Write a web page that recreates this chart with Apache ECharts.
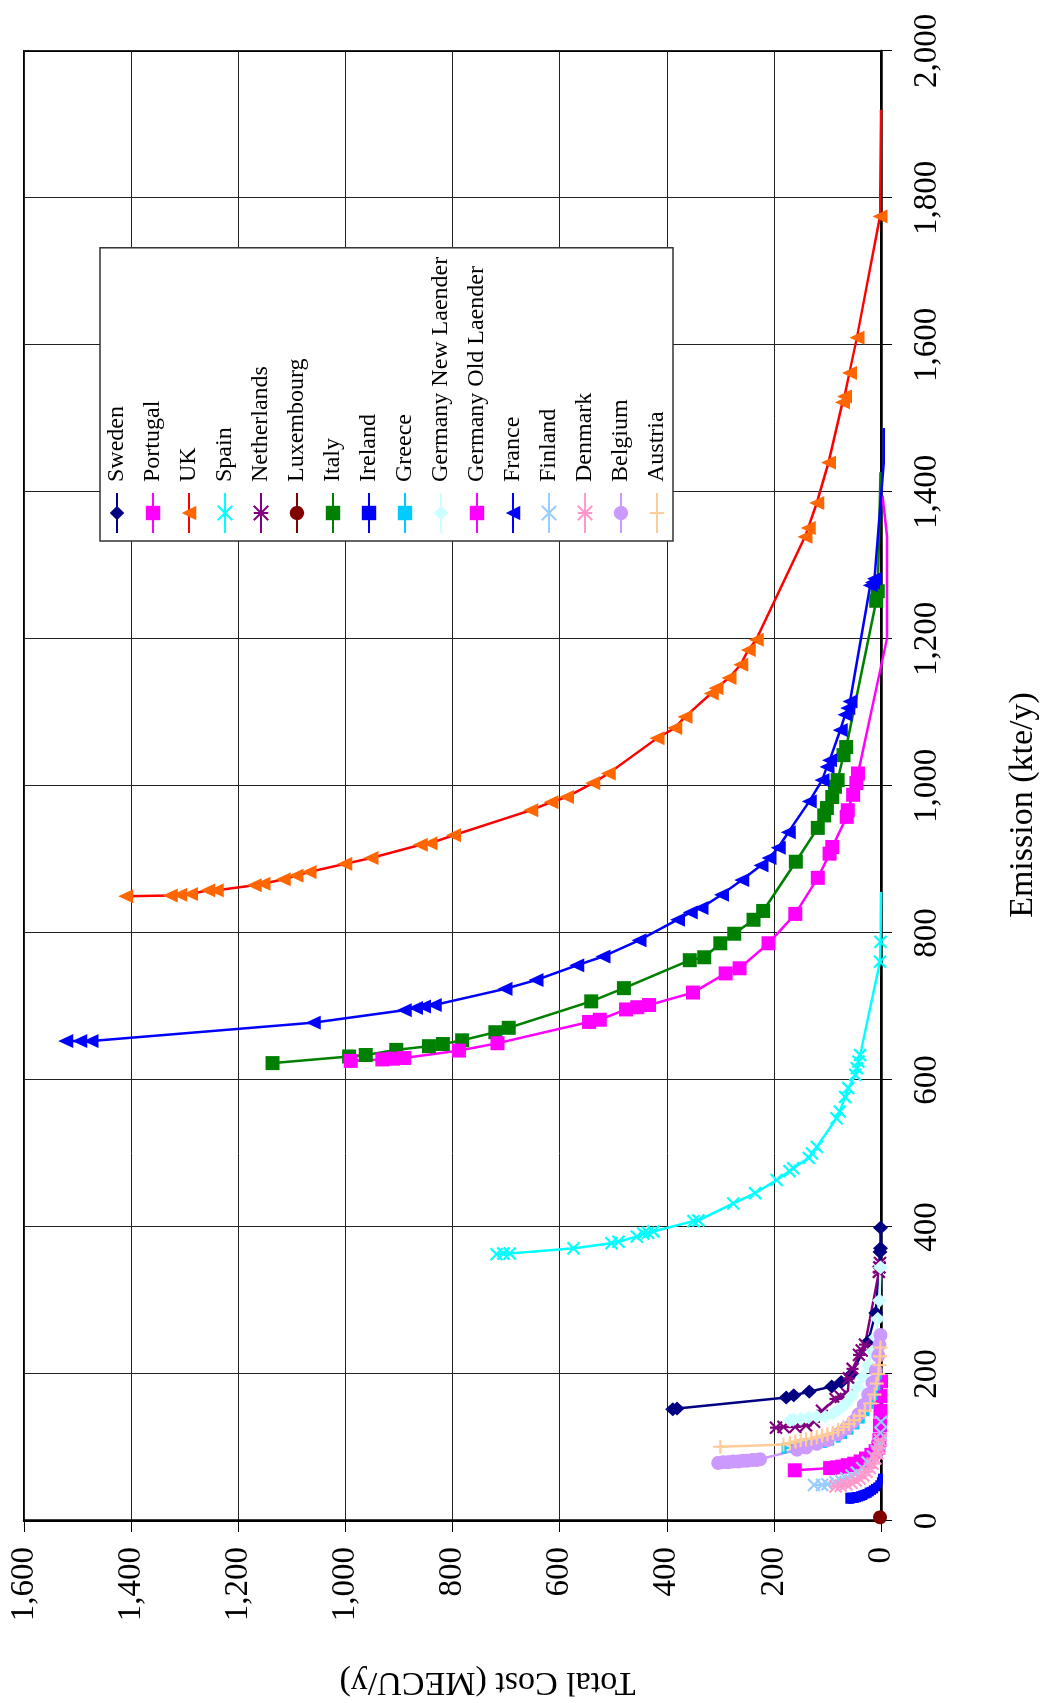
<!DOCTYPE html>
<html>
<head>
<meta charset="utf-8">
<script src="https://cdn.jsdelivr.net/npm/echarts@6/dist/echarts.min.js"></script>
<style>
html, body { margin: 0; padding: 0; background: #fff; }
#page { position: relative; width: 1046px; height: 1703px; overflow: hidden; }
/* chart is laid out landscape, then turned a quarter to the left */
#chart { position: absolute; left: 0; top: 0; width: 1703px; height: 1046px;
  transform-origin: 0 0; transform: translate(0, 1703px) rotate(-90deg); }
</style>
</head>
<body>
<div id="page"><div id="chart"></div></div>
<script>
// [emission kte/y, total cost MECU/y]; *Tail = points drawn without a marker
var sweden = [[399,1],[371,1],[366,2],[283,10],[244,24],[199,56],[189,74],[183,92],[176,134],[171,163],[168,177],[153,381],[152,389]];
var portugal = [[190,0],[170,1],[150,1],[130,2],[110,3],[100,5],[95,10],[90,18],[85,28],[81,38],[78,50],[76,62],[74,72],[73,82],[72,95],[69,161]];
var ukTail = [[1920,0],[1907,0]];
var uk = [[1775,2],[1610,45],[1562,59],[1530,68],[1522,72],[1440,98],[1385,120],[1351,136],[1339,142],[1199,233],[1185,248],[1165,262],[1147,284],[1133,308],[1126,317],[1094,366],[1079,385],[1065,418],[1017,509],[1004,538],[985,587],[978,616],[967,654],[933,798],[922,842],[920,860],[902,952],[894,1001],[883,1068],[878,1092],[873,1116],[867,1154],[865,1170],[858,1241],[858,1257],[853,1289],[852,1309],[851,1327],[850,1410]];
var spainTail = [[856,0]];
var spain = [[788,1],[761,2],[634,39],[625,42],[616,45],[607,48],[589,61],[577,67],[557,77],[548,83],[509,120],[500,129],[494,135],[480,164],[476,171],[464,195],[446,235],[432,276],[409,341],[408,350],[394,425],[392,435],[391,444],[387,456],[380,490],[378,503],[371,574],[364,693],[364,705],[363,718]];
var netherlands = [[351,2],[345,3],[339,4],[240,30],[232,36],[226,41],[207,53],[194,60],[172,62],[169,75],[166,85],[150,110],[135,125],[130,140],[128,160],[128,182],[127,196]];
var luxembourg = [[5,2]];
var italyTail = [[1427,1]];
var italy = [[1265,6],[1252,9],[1053,65],[1042,70],[1008,81],[999,86],[985,91],[970,101],[960,106],[943,118],[897,159],[830,220],[818,238],[799,274],[786,300],[767,330],[763,357],[725,480],[707,541],[671,695],[665,720],[654,782],[649,818],[646,844],[641,905],[634,962],[632,993],[623,1136]];
var ireland = [[57,1],[52,3],[48,6],[45,10],[43,14],[41,18],[39,22],[38,26],[36,30],[35,34],[34,38],[33,42],[32,46],[32,50],[31,54],[31,58],[31,62]];
var greece = [[200,3],[185,6],[172,11],[160,18],[150,26],[140,35],[132,45],[125,56],[119,68],[114,80],[110,92],[107,105],[105,120],[103,135],[101,150],[100,165],[99,181]];
var germanyNew = [[345,1],[300,3],[275,6],[250,10],[230,17],[212,25],[196,34],[182,44],[170,55],[160,66],[152,78],[146,90],[142,104],[142,120],[141,135],[139,150],[138,164],[137,170]];
var germanyOldTail = [[1395,-3],[1340,-11],[1200,-11]];
var germanyOld = [[1017,43],[1004,46],[988,52],[967,62],[958,64],[917,91],[908,96],[875,118],[826,160],[786,210],[752,264],[745,290],[719,351],[702,433],[699,455],[696,476],[682,525],[679,545],[650,716],[640,788],[630,890],[629,911],[628,931],[626,990]];
var franceTail = [[1487,-5],[1440,-5]];
var france = [[1282,12],[1277,16],[1273,20],[1115,58],[1106,62],[1097,67],[1076,76],[1035,96],[1026,101],[1008,110],[979,134],[937,173],[916,192],[902,209],[892,224],[872,260],[852,298],[834,336],[828,356],[818,380],[790,452],[768,519],[756,568],[736,644],[724,702],[702,834],[700,854],[698,869],[695,890],[678,1060],[653,1475],[653,1496],[653,1522]];
var finland = [[135,0],[120,1],[105,3],[95,8],[88,15],[80,25],[72,35],[66,45],[62,55],[58,65],[55,75],[53,85],[50,100],[49,110],[49,125]];
var denmark = [[110,2],[100,4],[92,7],[85,11],[78,16],[72,21],[67,27],[62,33],[58,40],[55,47],[52,55],[50,65],[48,75],[47,85]];
var belgium = [[253,1],[240,3],[225,5],[205,10],[188,16],[172,24],[158,32],[145,42],[135,52],[126,65],[118,80],[110,100],[105,120],[100,140],[97,157],[84,226],[83,232],[83,240],[82,250],[82,258],[81,266],[81,276],[80,285],[80,295],[79,304]];
var austria = [[236,1],[224,2],[212,3],[200,5],[187,8],[172,12],[160,20],[150,30],[143,40],[137,50],[132,60],[128,70],[124,80],[120,90],[118,100],[116,110],[114,120],[112,130],[111,140],[110,150],[108,160],[106,170],[104,182],[101,300]];

var FONT = 'Liberation Serif';
var X_MARK = 'path://M0,0L10,10M0,10L10,0';
var STAR_MARK = 'path://M0,0L10,10M0,10L10,0M5,0L5,10';
var PLUS_MARK = 'path://M5,0L5,10M0,5L10,5';

function fmt(v) {
  return String(v).replace(/\B(?=(\d{3})+(?!\d))/g, ',');
}

function mk(name, pts, tail, line, mark, symbol, size, stroked) {
  var data = (tail || []).map(function (p) {
    return { value: p, symbol: 'none' };
  }).concat(pts);
  return {
    name: name,
    type: 'line',
    data: data,
    clip: false,
    showAllSymbol: true,
    symbol: symbol,
    symbolSize: size,
    lineStyle: { color: line, width: 2.5 },
    itemStyle: stroked
      ? { color: mark, borderColor: mark, borderWidth: 2.2 }
      : { color: mark, borderWidth: 0 },
    emphasis: { disabled: true },
    animation: false
  };
}

var chart = echarts.init(document.getElementById('chart'));
chart.setOption({
  animation: false,
  grid: {
    left: 182, right: 51, top: 24, bottom: 165,
    show: true, borderColor: '#000', borderWidth: 2,
    outerBoundsMode: 'none'
  },
  legend: {
    orient: 'vertical',
    left: 1162, top: 100,
    padding: [5, 9, 4, 7],
    itemGap: 12,
    itemWidth: 40,
    itemHeight: 18,
    backgroundColor: '#fff',
    borderColor: '#333',
    borderWidth: 1.5,
    borderRadius: 0,
    textStyle: { fontFamily: FONT, fontSize: 24, color: '#000', lineHeight: 24, padding: [0, 0, 0, 6] }
  },
  xAxis: {
    type: 'value', min: 0, max: 2000, interval: 200,
    name: 'Emission (kte/y)', nameLocation: 'middle', nameGap: 125,
    nameTextStyle: { fontFamily: FONT, fontSize: 34, color: '#000', padding: [0, 38, 0, 0] },
    axisLine: { show: true, onZero: false, lineStyle: { color: '#000', width: 2.5 } },
    axisTick: { show: true, inside: false, length: 11, lineStyle: { color: '#000', width: 1 } },
    axisLabel: { margin: 30, fontFamily: FONT, fontSize: 33, color: '#000', formatter: fmt },
    splitLine: { show: true, lineStyle: { color: '#222', width: 1 } }
  },
  yAxis: {
    type: 'value', min: 0, max: 1600, interval: 200,
    name: 'Total Cost (MECU/y)', nameLocation: 'middle', nameGap: 144,
    nameTextStyle: { fontFamily: FONT, fontSize: 34, color: '#000', padding: [0, 70, 0, 0] },
    axisLine: { show: true, onZero: false, lineStyle: { color: '#000', width: 2.5 } },
    axisTick: { show: true, inside: false, length: 11, lineStyle: { color: '#000', width: 1 } },
    axisLabel: { margin: 26, fontFamily: FONT, fontSize: 33, color: '#000', formatter: fmt },
    splitLine: { show: true, lineStyle: { color: '#222', width: 1 } }
  },
  series: [
    mk('Sweden', sweden, null, '#000080', '#000080', 'diamond', [14, 15]),
    mk('Portugal', portugal, null, '#FF00FF', '#FF00FF', 'rect', 14),
    mk('UK', uk, ukTail, '#FF0000', '#FF6600', 'triangle', [14, 15]),
    mk('Spain', spain, spainTail, '#00FFFF', '#00FFFF', X_MARK, 12, true),
    mk('Netherlands', netherlands, null, '#800080', '#800080', STAR_MARK, 12, true),
    mk('Luxembourg', luxembourg, null, '#800000', '#800000', 'circle', 14),
    mk('Italy', italy, italyTail, '#008000', '#008000', 'rect', 14),
    mk('Ireland', ireland, null, '#0000FF', '#0000FF', 'rect', [11, 5]),
    mk('Greece', greece, null, '#00CCFF', '#00CCFF', 'rect', [11, 5]),
    mk('Germany New Laender', germanyNew, null, '#CCFFFF', '#CCFFFF', 'diamond', [14, 15]),
    mk('Germany Old Laender', germanyOld, germanyOldTail, '#FF00FF', '#FF00FF', 'rect', 14),
    mk('France', france, franceTail, '#0000FF', '#0000FF', 'triangle', [14, 15]),
    mk('Finland', finland, null, '#99CCFF', '#99CCFF', X_MARK, 12, true),
    mk('Denmark', denmark, null, '#FF99CC', '#FF99CC', STAR_MARK, 12, true),
    mk('Belgium', belgium, null, '#CC99FF', '#CC99FF', 'circle', 14),
    mk('Austria', austria, null, '#FFCC99', '#FFCC99', PLUS_MARK, 14, true)
  ]
});
</script>
</body>
</html>
